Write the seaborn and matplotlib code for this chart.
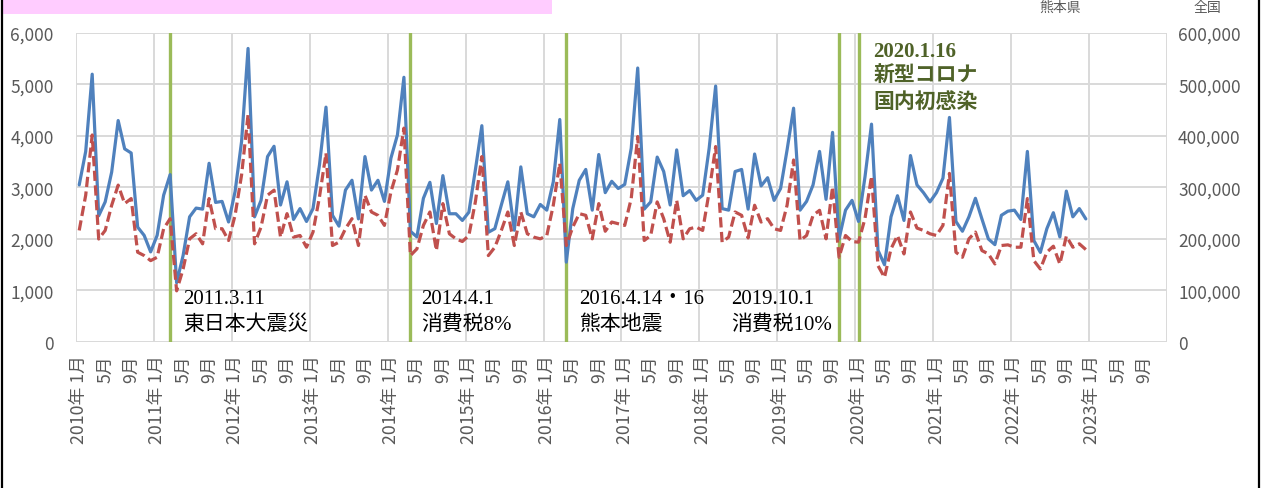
import numpy as np
import pandas as pd
import matplotlib.pyplot as plt
import seaborn as sns
from matplotlib.patches import Rectangle
from matplotlib.lines import Line2D

# === Data (monthly, 2010/1 - 2022/12) ===
kumamoto = [
    3050, 3700, 5200, 2450, 2720, 3300, 4300, 3750, 3670, 2230, 2070, 1750,  # 2010
    2070, 2850, 3250, 1150, 1680, 2430, 2600, 2580, 3470, 2710, 2730, 2330,  # 2011
    2920, 3890, 5700, 2430, 2750, 3600, 3800, 2660, 3110, 2380, 2590, 2340,  # 2012
    2590, 3440, 4560, 2460, 2250, 2950, 3140, 2390, 3600, 2950, 3140, 2730,  # 2013
    3570, 4020, 5140, 2150, 2040, 2790, 3100, 2300, 3230, 2490, 2490, 2360,  # 2014
    2520, 3340, 4200, 2130, 2200, 2660, 3110, 2170, 3400, 2490, 2430, 2670,  # 2015
    2560, 3110, 4320, 1550, 2590, 3140, 3350, 2560, 3640, 2900, 3120, 2980,  # 2016
    3060, 3760, 5320, 2580, 2720, 3590, 3310, 2660, 3730, 2840, 2940, 2750,  # 2017
    2850, 3760, 4970, 2590, 2560, 3310, 3350, 2580, 3650, 3030, 3190, 2750,  # 2018
    2980, 3730, 4540, 2560, 2730, 3050, 3700, 2770, 4070, 2000, 2560, 2750,  # 2019
    2340, 3210, 4230, 1780, 1500, 2430, 2840, 2360, 3620, 3050, 2900, 2720,  # 2020
    2900, 3180, 4360, 2340, 2150, 2430, 2790, 2390, 2000, 1890, 2460, 2540,  # 2021
    2560, 2380, 3700, 1970, 1740, 2200, 2510, 2040, 2930, 2430, 2590, 2390,  # 2022
]
zenkoku = [
    216600, 285000, 402000, 200000, 216600, 265500, 304600, 268700, 278500, 174300, 167800, 158000,
    164500, 219900, 239400, 99300, 141700, 200300, 210100, 190600, 278500, 219900, 219900, 197100,
    245900, 324100, 441400, 190600, 223100, 285000, 294800, 203600, 249200, 203600, 206800, 184000,
    213300, 281800, 366500, 187300, 193800, 219900, 239400, 187300, 285000, 252400, 245900, 226400,
    291500, 333900, 415300, 167800, 180800, 226400, 252400, 177500, 268700, 210100, 200300, 195100,
    206800, 272000, 360000, 167800, 184000, 216600, 252400, 187300, 252400, 210100, 203600, 200300,
    206800, 265500, 346900, 187300, 223100, 249200, 245900, 200300, 268700, 215000, 232900, 229600,
    226400, 278500, 399000, 197100, 206800, 272000, 239400, 193800, 275200, 200300, 219900, 223100,
    216600, 291500, 379500, 193800, 203600, 252400, 245900, 202000, 265500, 232900, 239400, 219900,
    216600, 265500, 353400, 197100, 206800, 245900, 255700, 200300, 301300, 164500, 206800, 195100,
    193800, 240000, 322000, 148200, 125400, 180800, 206800, 171000, 252400, 221200, 216600, 210100,
    206800, 226400, 327400, 174300, 164500, 200300, 213400, 177500, 171000, 151500, 187300, 188600,
    184000, 184000, 278500, 158000, 141700, 174300, 186000, 151500, 205500, 184000, 190600, 179500,
]
start_year = 2010
n_axis_months = 14 * 12  # axis runs to 2023/12

# events: month index of the line, date label, description
event_months = [14, 51, 75, 117]
event_dates = ["2011.3.11", "2014.4.1", "2016.4.14・16", "2019.10.1"]
event_texts = ["東日本大震災", "消費税8%", "熊本地震", "消費税10%"]
event_label_x = [16.5, 53.2, 77.5, 100.9]
covid_month = 120
covid_lines = ["2020.1.16", "新型コロナ", "国内初感染"]

df = pd.DataFrame({
    "idx": np.arange(len(kumamoto)) + 0.5,
    "kumamoto": kumamoto,
    "zenkoku": zenkoku,
})

tick_pos = np.arange(0, n_axis_months, 4) + 0.5
tick_labels = [f"{start_year + i // 12}年 1月" if i % 12 == 0 else f"{i % 12 + 1}月"
               for i in range(0, n_axis_months, 4)]

# === Style ===
sns.set_theme(style="white")
plt.rcParams["font.family"] = ["Noto Sans CJK JP", "DejaVu Sans"]
grey = "#595959"
grid_c = "#D9D9D9"
serif = ["Liberation Serif", "Noto Sans CJK JP"]

fig = plt.figure(figsize=(12.66, 4.89), dpi=100)
fig.subplots_adjust(left=0.060, right=0.9218, top=0.9305, bottom=0.2986)
ax = fig.add_subplot(111)

# gridlines
ax.set_ylim(0, 6000)
ax.set_xlim(0, n_axis_months)
ax.set_yticks(range(0, 6001, 1000))
ax.yaxis.grid(True, color=grid_c, lw=1.4)
for k in range(0, n_axis_months + 1, 12):
    ax.axvline(k, color=grid_c, lw=1.4, zorder=0.5)

# event lines
for m in event_months + [covid_month]:
    ax.axvline(m + 0.5, color="#9BBB59", lw=2.4, zorder=1)

# === Lines ===
sns.lineplot(data=df, x="idx", y="kumamoto", ax=ax, color="#4F81BD", lw=2.3,
             solid_joinstyle="round", zorder=3)
ax2 = ax.twinx()
sns.lineplot(data=df, x="idx", y="zenkoku", ax=ax2, color="#C0504D", lw=2.3,
             linestyle=(0, (3.2, 1.4)), dash_joinstyle="round", zorder=3)
ax2.set_ylim(0, 600000)
ax2.set_yticks(range(0, 600001, 100000))

# === Axes ===
ax.set_xticks(tick_pos)
ax.set_xticklabels(tick_labels, rotation=90, fontsize=12.8, color=grey)
ax.set_yticklabels([f"{v:,}" for v in range(0, 6001, 1000)], fontsize=12.5, color=grey)
ax2.set_yticklabels([f"{v:,}" for v in range(0, 600001, 100000)], fontsize=12.5, color=grey)
ax.tick_params(axis="x", length=0, pad=9)
ax.tick_params(axis="y", length=0, pad=16)
ax2.tick_params(axis="y", length=0, pad=8)
ax.set_xlabel("")
ax.set_ylabel("")
ax2.set_ylabel("")
for a in (ax, ax2):
    for s in a.spines.values():
        s.set_visible(False)

# === Annotations ===
for x0, d, t in zip(event_label_x, event_dates, event_texts):
    ax.text(x0, 835, d, fontsize=15, family=serif, va="center", ha="left", color="black")
    ax.text(x0, 350, t, fontsize=15, family=serif, va="center", ha="left", color="black")
for j, line in enumerate(covid_lines):
    ax.text(covid_month + 2.8, 5650 - j * 490, line, fontsize=15, family=serif,
            fontweight="bold", va="center", ha="left", color="#4F6228")

# === Frame, title box and series titles ===
W, H = 1266, 489
fig.patches.append(Rectangle((3 / W, 1 - 15 / H), 549 / W, 20 / H, transform=fig.transFigure,
                             facecolor="#FFCCFF", edgecolor="none"))
fig.lines.append(Line2D([2 / W, 2 / W], [0, 1], transform=fig.transFigure, color="black", lw=1.6))
fig.lines.append(Line2D([1259 / W, 1259 / W], [0, 1], transform=fig.transFigure, color="black", lw=1.6))
fig.text(1060 / W, 1 - 1 / H, "熊本県", fontsize=10, color=grey, ha="center", va="top")
fig.text(1207 / W, 1 - 1 / H, "全国", fontsize=10, color=grey, ha="center", va="top")

plt.savefig("out.png", dpi=100)
